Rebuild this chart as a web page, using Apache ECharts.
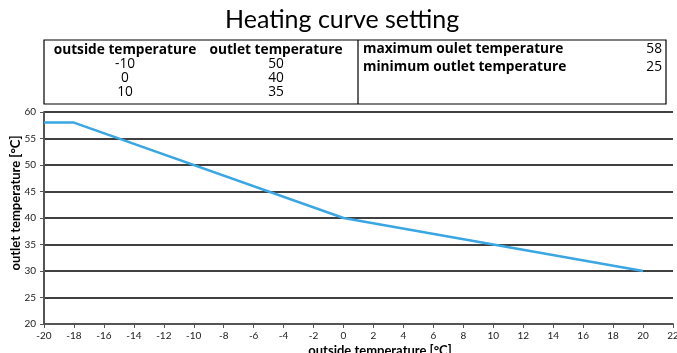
<!DOCTYPE html>
<html>
<head>
<meta charset="utf-8">
<script src="https://cdn.jsdelivr.net/npm/echarts@6/dist/echarts.min.js"></script>
<style>
  html, body { margin: 0; padding: 0; background: #fff; overflow: hidden; }
  #chart { width: 677px; height: 353px; }
</style>
</head>
<body>
<div id="chart"></div>
<script>
// Heating curve: outlet temperature as a function of outside temperature
const curveOutside = [-20, -18, 0, 10, 20];
const curveOutlet = [58, 58, 40, 35, 30];

// Set points shown in the settings table
const setOutside = [-10, 0, 10];
const setOutlet = [50, 40, 35];
const limitLabels = ['maximum oulet temperature', 'minimum outlet temperature'];
const limitValues = [58, 25];

// Axis tick ranges
const xTicks = { min: -20, max: 22, step: 2 };
const yTicks = { min: 20, max: 60, step: 5 };

const FONT = 'Lato';
const TABLE_FONT = '"Open Sans"';
const TABLE_SIZE = '13.7px ';
const chart = echarts.init(document.getElementById('chart'), null, { renderer: 'canvas' });

// Settings table drawn as graphic elements
const tbl = { left: 44, top: 40, right: 666, bottom: 104, divider: 358 };
const rowY0 = 50, rowStep = 14;
const col1 = 125, col2 = 276;
const graphics = [
  { type: 'rect', shape: { x: tbl.left, y: tbl.top, width: tbl.right - tbl.left, height: tbl.bottom - tbl.top },
    style: { fill: 'none', stroke: '#000', lineWidth: 1.2 } },
  { type: 'line', shape: { x1: tbl.divider, y1: tbl.top, x2: tbl.divider, y2: tbl.bottom },
    style: { stroke: '#000', lineWidth: 1.2 } },
  { type: 'text', x: col1, y: rowY0, style: { text: 'outside temperature', font: 'bold ' + TABLE_SIZE + TABLE_FONT, fill: '#000', align: 'center', verticalAlign: 'middle' } },
  { type: 'text', x: col2, y: rowY0, style: { text: 'outlet temperature', font: 'bold ' + TABLE_SIZE + TABLE_FONT, fill: '#000', align: 'center', verticalAlign: 'middle' } }
];
setOutside.forEach((v, i) => {
  graphics.push({ type: 'text', x: col1, y: rowY0 + rowStep * (i + 1),
    style: { text: String(v), font: TABLE_SIZE + TABLE_FONT, fill: '#000', align: 'center', verticalAlign: 'middle' } });
  graphics.push({ type: 'text', x: col2, y: rowY0 + rowStep * (i + 1),
    style: { text: String(setOutlet[i]), font: TABLE_SIZE + TABLE_FONT, fill: '#000', align: 'center', verticalAlign: 'middle' } });
});
limitLabels.forEach((t, i) => {
  const y = 49 + i * 18;
  graphics.push({ type: 'text', x: 363, y: y,
    style: { text: t, font: 'bold ' + TABLE_SIZE + TABLE_FONT, fill: '#000', align: 'left', verticalAlign: 'middle' } });
  graphics.push({ type: 'text', x: 662, y: y,
    style: { text: String(limitValues[i]), font: TABLE_SIZE + TABLE_FONT, fill: '#000', align: 'right', verticalAlign: 'middle' } });
});

// Axis titles
graphics.push({ type: 'text', x: 380, y: 344,
  style: { text: 'outside temperature [°C]', font: 'bold 13px ' + FONT, fill: '#000', align: 'center', verticalAlign: 'top' } });
graphics.push({ type: 'text', x: 16, y: 203, rotation: Math.PI / 2,
  style: { text: 'outlet temperature [°C]', font: 'bold 13px ' + FONT, fill: '#000', align: 'center', verticalAlign: 'middle' } });

chart.setOption({
  animation: false,
  backgroundColor: '#fff',
  title: {
    text: 'Heating curve setting',
    left: 225,
    top: 7,
    padding: 0,
    textStyle: { fontFamily: FONT, fontWeight: 'normal', fontSize: 25, color: '#000' }
  },
  graphic: graphics,
  grid: { left: 44, right: 4, top: 112, bottom: 29, outerBoundsMode: 'none' },
  xAxis: {
    type: 'value',
    min: xTicks.min, max: xTicks.max, interval: xTicks.step,
    axisLine: { onZero: false, lineStyle: { color: '#555', width: 2 } },
    axisTick: { show: true, length: 4, lineStyle: { color: '#555', width: 1 } },
    axisLabel: { fontFamily: FONT, fontSize: 10, color: '#222', margin: 7 },
    splitLine: { show: false }
  },
  yAxis: {
    type: 'value',
    min: yTicks.min, max: yTicks.max, interval: yTicks.step,
    axisLine: { show: true, onZero: false, lineStyle: { color: '#555', width: 2 } },
    axisTick: { show: true, length: 4, lineStyle: { color: '#555', width: 1 } },
    axisLabel: { fontFamily: FONT, fontSize: 10, color: '#222', margin: 8 },
    splitLine: { show: true, lineStyle: { color: '#000', width: 1.5 } }
  },
  series: [{
    type: 'line',
    data: curveOutside.map((x, i) => [x, curveOutlet[i]]),
    showSymbol: false,
    lineStyle: { color: '#3aa6e2', width: 2.5 },
    itemStyle: { color: '#3aa6e2' }
  }]
});
</script>
</body>
</html>
